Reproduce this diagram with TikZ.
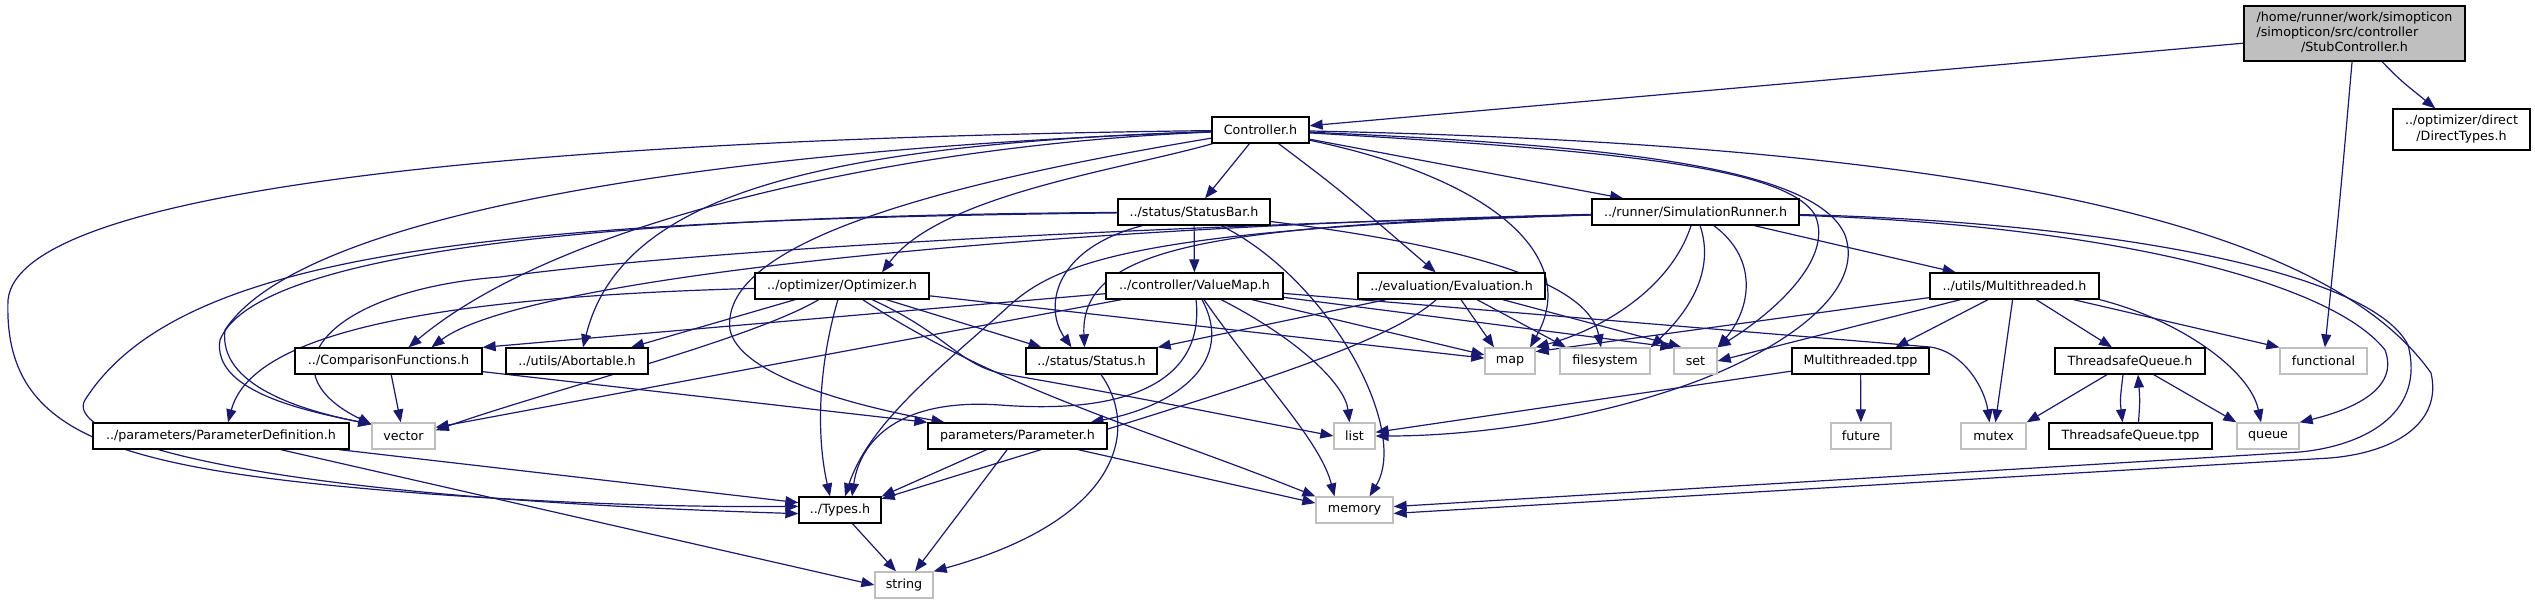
\documentclass[tikz,border=0pt]{standalone}
\usepackage{fontspec}
\setmainfont{DejaVu Sans}
\usetikzlibrary{arrows.meta,backgrounds}
\definecolor{edgec}{HTML}{191970}
\definecolor{extc}{HTML}{BFBFBF}
\begin{document}
\begin{tikzpicture}[x=1pt,y=-1pt,
  box/.style={draw=black, line width=1.3pt, fill=white, minimum height=26pt, inner sep=0pt, font=\fontsize{12.7}{15.2}\selectfont, text=black},
  ext/.style={box, draw=extc},
  edg/.style={draw=edgec, line width=1.2pt, -{Triangle[length=13pt,width=10pt]}},
]
\useasboundingbox (0,0) rectangle (2535,604);
% nodes
\node[box, fill=extc, minimum width=221pt, minimum height=55pt] (stub) at (2354.5,33.5)
  {\begin{tabular}{@{}l@{}}/home/runner/work/simopticon\\/simopticon/src/controller\\\multicolumn{1}{@{}c@{}}{/StubController.h}\end{tabular}};
\node[box, minimum width=97pt] (ctrl) at (1260.5,130) {Controller.h};
\node[box, minimum width=137pt, minimum height=41pt] (direct) at (2461.5,129.5)
  {\begin{tabular}{@{}l@{}}../optimizer/direct\\\multicolumn{1}{@{}c@{}}{/DirectTypes.h}\end{tabular}};
\node[box, minimum width=152pt] (statusbar) at (1194,212) {../status/StatusBar.h};
\node[box, minimum width=207pt] (simrun) at (1695.5,212) {../runner/SimulationRunner.h};
\node[box, minimum width=174pt] (opt) at (842,286) {../optimizer/Optimizer.h};
\node[box, minimum width=177pt] (valuemap) at (1194.5,286) {../controller/ValueMap.h};
\node[box, minimum width=187pt] (eval) at (1451.5,286) {../evaluation/Evaluation.h};
\node[box, minimum width=169pt] (mth) at (2014.5,286) {../utils/Multithreaded.h};
\node[box, minimum width=187pt] (comp) at (388.5,361) {../ComparisonFunctions.h};
\node[box, minimum width=142pt] (abort) at (577,361) {../utils/Abortable.h};
\node[box, minimum width=131pt] (status) at (1091.5,361) {../status/Status.h};
\node[ext, minimum width=50pt] (map) at (1510,361) {map};
\node[ext, minimum width=90pt] (fs) at (1605,361) {filesystem};
\node[ext, minimum width=43pt] (set) at (1695.5,361) {set};
\node[box, minimum width=137pt] (mtpp) at (1860.5,361) {Multithreaded.tpp};
\node[box, minimum width=150pt] (tsq) at (2130,361) {ThreadsafeQueue.h};
\node[ext, minimum width=87pt] (functional) at (2323.5,361) {functional};
\node[box, minimum width=256pt] (paramdef) at (221,436) {../parameters/ParameterDefinition.h};
\node[ext, minimum width=63pt] (vector) at (403.5,436) {vector};
\node[box, minimum width=179pt] (param) at (1017.5,436) {parameters/Parameter.h};
\node[ext, minimum width=41pt] (list) at (1354.5,436) {list};
\node[ext, minimum width=60pt] (future) at (1861,436) {future};
\node[ext, minimum width=65pt] (mutex) at (1993.5,436) {mutex};
\node[box, minimum width=163pt] (tsqtpp) at (2130.5,436) {ThreadsafeQueue.tpp};
\node[ext, minimum width=62pt] (queue) at (2268,436) {queue};
\node[box, minimum width=82pt] (types) at (840,510) {../Types.h};
\node[ext, minimum width=77pt] (memory) at (1354.5,510) {memory};
\node[ext, minimum width=58pt] (string) at (904,585) {string};

\begin{scope}[on background layer]
\fill[white] (0,0) rectangle (2535,604);
% StubController
\draw[edg] (stub) -- (ctrl);
\draw[edg] (stub) .. controls (2400,80) .. (direct);
\draw[edg] (stub) .. controls (2340,200) .. (functional);
% Controller
\draw[edg] (ctrl) -- (statusbar);
\draw[edg] (ctrl) -- (simrun);
\draw[edg] (ctrl) .. controls (1340,190) .. (eval);
\draw[edg] (ctrl) .. controls (1120,170) and (940,195) .. ([xshift=40pt]opt.north);
\draw[edg] (ctrl) .. controls (900,145) and (560,220) .. ([xshift=20pt]comp.north);
\draw[edg] (ctrl) .. controls (800,145) and (620,200) .. ([xshift=6pt]abort.north);
\draw[edg] (ctrl) .. controls (700,150) and (300,215) .. (225,330) .. controls (218,385) and (300,410) .. (vector.160);
\draw[edg] (ctrl) .. controls (600,138) and (20,180) .. (8,300) .. controls (3,440) and (120,470) .. (430,494) .. controls (600,506) and (720,507) .. (types.175);
\draw[edg] (ctrl) .. controls (900,190) and (720,250) .. (730,330) .. controls (740,375) and (850,405) .. ([xshift=-73pt]param.north);
\draw[edg] (ctrl) .. controls (1500,180) and (1580,260) .. ([xshift=20pt]map.north);
\draw[edg] (ctrl) .. controls (1600,150) and (1785,165) .. (1815,215) .. controls (1835,260) and (1770,315) .. (set.north east);
\draw[edg] (ctrl) .. controls (1600,145) and (1815,165) .. (1845,235) .. controls (1865,290) and (1790,345) .. (1700,380) .. controls (1600,418) and (1480,436) .. (list.east);
\draw[edg] (ctrl) .. controls (2000,145) and (2330,230) .. (2431,373) .. controls (2442,420) and (2400,452) .. (2330,458) -- (memory.355);
% StatusBar
\draw[edg] (statusbar) -- (valuemap);
\draw[edg] (statusbar) .. controls (1050,250) and (1045,310) .. ([xshift=-20pt]status.north);
\draw[edg] (statusbar) .. controls (1500,250) and (1590,290) .. ([xshift=-4pt]fs.north);
\draw[edg] (statusbar) .. controls (1330,280) and (1410,430) .. ([xshift=15pt]memory.north);
\draw[edg] (statusbar) .. controls (500,220) and (180,250) .. (85,400) .. controls (65,432) and (200,495) .. (types.185);
\draw[edg] (statusbar) .. controls (700,215) and (260,240) .. (220,340) .. controls (212,390) and (300,410) .. (vector.160);
% SimulationRunner
\draw[edg] (simrun) .. controls (1200,225) and (1080,250) .. ([xshift=-7pt]status.north);
\draw[edg] (simrun) .. controls (1000,228) and (520,280) .. ([xshift=43pt]comp.north);
\draw[edg] (simrun) .. controls (1100,228) and (700,250) .. (500,277) .. controls (330,290) and (260,370) .. (vector.160);
\draw[edg] (simrun) .. controls (1150,228) and (1060,260) .. (1010,305) .. controls (950,360) and (870,420) .. ([xshift=5pt]types.north);
\draw[edg] (simrun) .. controls (1670,290) and (1600,330) .. (map.north east);
\draw[edg] (simrun) .. controls (1715,270) and (1690,310) .. (fs.north east);
\draw[edg] (simrun) .. controls (1760,260) and (1750,310) .. (set.north east);
\draw[edg] (simrun) -- (mth);
\draw[edg] (simrun) .. controls (2100,222) and (2370,270) .. (2408,345) .. controls (2425,410) and (2370,445) .. (2300,452) -- (memory.5);
\draw[edg] (simrun) .. controls (2100,225) and (2330,280) .. (2385,350) .. controls (2400,390) and (2350,410) .. (queue.north east);
% Optimizer
\draw[edg] (opt) .. controls (400,298) and (250,340) .. ([xshift=7pt]paramdef.north);
\draw[edg] (opt) -- ([xshift=54pt]abort.north);
\draw[edg] (opt) .. controls (750,340) and (550,390) .. (vector.10);
\draw[edg] (opt) .. controls (820,360) and (815,430) .. ([xshift=-10pt]types.north);
\draw[edg] (opt) -- ([xshift=-50pt]status.north);
\draw[edg] (opt) -- (map);
\draw[edg] (opt) .. controls (950,335) and (960,368) .. (1010,375) .. controls (1100,390) and (1250,420) .. (list.west);
\draw[edg] (opt) .. controls (1000,390) and (1150,430) .. (memory.north west);
% ValueMap
\draw[edg] (valuemap) -- (comp.north east);
\draw[edg] (valuemap) -- (vector.15);
\draw[edg] (valuemap) .. controls (1205,380) and (1130,415) .. (1000,405) .. controls (900,398) and (860,440) .. ([xshift=12pt]types.north);
\draw[edg] (valuemap) .. controls (1235,360) and (1180,405) .. ([xshift=73pt]param.north);
\draw[edg] (valuemap) .. controls (1260,380) and (1320,440) .. ([xshift=-20pt]memory.north);
\draw[edg] (valuemap) .. controls (1300,340) and (1345,385) .. ([xshift=-5pt]list.north);
\draw[edg] (valuemap) -- (map);
\draw[edg] (valuemap) -- (set.north west);
\draw[edg] (valuemap) -- (1930,347) .. controls (1965,352) and (1985,390) .. ([xshift=-4pt]mutex.north);
% Evaluation
\draw[edg] (eval) -- (status.north east);
\draw[edg] (eval) .. controls (1380,350) and (1200,400) .. (types.15);
\draw[edg] (eval) -- ([xshift=-16pt]map.north);
\draw[edg] (eval) -- ([xshift=-39pt]fs.north);
\draw[edg] (eval) -- ([xshift=-14pt]set.north);
% Multithreaded.h
\draw[edg] (mth) -- (map.20);
\draw[edg] (mth) -- (set.east);
\draw[edg] (mth) -- ([xshift=35pt]mtpp.north);
\draw[edg] (mth) -- (mutex);
\draw[edg] (mth) -- ([xshift=-18pt]tsq.north);
\draw[edg] (mth) -- (functional.north west);
\draw[edg] (mth.south east) .. controls (2180,320) and (2250,370) .. ([xshift=-7pt]queue.north);
% tpp and queue
\draw[edg] (mtpp) -- (list.10);
\draw[edg] (mtpp) -- (future);
\draw[edg] (tsq) -- (mutex.north east);
\draw[edg] ([xshift=-7pt]tsq.south) .. controls (2120,400) .. ([xshift=-8pt]tsqtpp.north);
\draw[edg] ([xshift=8pt]tsqtpp.north) .. controls (2140,400) .. ([xshift=8pt]tsq.south);
\draw[edg] (tsq) -- (queue.north west);
% others
\draw[edg] (comp) -- (vector);
\draw[edg] (comp) -- (param.north west);
\draw[edg] (paramdef) -- (types.170);
\draw[edg] (paramdef) -- (string.west);
\draw[edg] (param) -- (types.north east);
\draw[edg] (param) -- ([xshift=11pt]string.north);
\draw[edg] (param) -- (memory.170);
\draw[edg] (types) -- ([xshift=-8pt]string.north);
\draw[edg] (status) .. controls (1140,430) and (1120,520) .. (string.north east);
\end{scope}
\end{tikzpicture}
\end{document}
